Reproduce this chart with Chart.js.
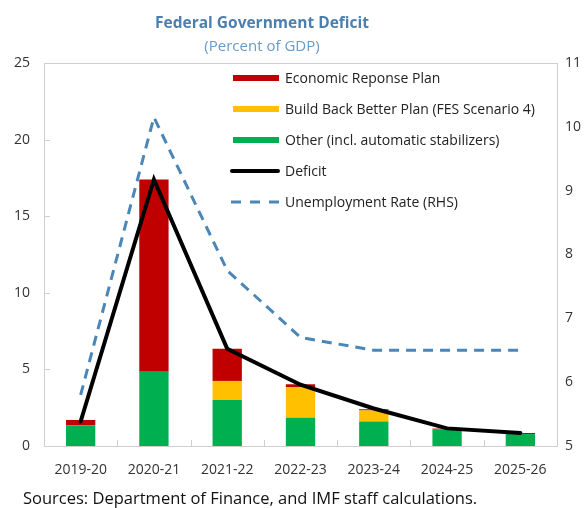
<!DOCTYPE html>
<html>
<head>
<meta charset="utf-8">
<script src="https://cdn.jsdelivr.net/npm/chart.js@4.4.1/dist/chart.umd.min.js"></script>
<style>
  body { margin: 0; background: #fff; font-family: "Open Sans", sans-serif; }
  #wrap { position: relative; width: 587px; height: 508px; overflow: hidden; }
  #title { position: absolute; left: 112px; width: 300px; top: 11px; text-align: center;
           color: #4a7fb0; font-weight: bold; font-size: 15.5px; }
  #subtitle { position: absolute; left: 112px; width: 300px; top: 35px; text-align: center;
              color: #6a9bc6; font-size: 15px; }
  #legend { position: absolute; left: 230px; top: 62px; font-size: 14px; color: #222; }
  #legend .item { height: 31px; display: flex; align-items: center; }
  #legend .sw { width: 50px; height: 22px; margin-right: 5px; }
  #source { position: absolute; left: 23px; top: 486px; font-size: 16.5px; color: #111; }
</style>
</head>
<body>
<div id="wrap">
  <canvas id="deficitchart" width="587" height="508"></canvas>
  <div id="title">Federal Government Deficit</div>
  <div id="subtitle">(Percent of GDP)</div>
  <div id="legend"></div>
  <div id="source">Sources: Department of Finance, and IMF staff calculations.</div>
</div>
<script>
// values
var years = ['2019-20', '2020-21', '2021-22', '2022-23', '2023-24', '2024-25', '2025-26'];
var otherVals = [1.35, 4.85, 3.0, 1.85, 1.6, 1.1, 0.78];
var bbbVals = [0, 0, 1.25, 2.0, 0.72, 0, 0];
var erpVals = [0.35, 12.55, 2.1, 0.18, 0.08, 0.04, 0.07];
var deficitVals = [1.6, 17.4, 6.35, 4.0, 2.45, 1.15, 0.85];
var unempVals = [5.8, 10.15, 7.75, 6.7, 6.5, 6.5, 6.5];
var leftTicks = [0, 5, 10, 15, 20, 25];
var rightTicks = [5, 6, 7, 8, 9, 10, 11];

var frameColor = '#cfcfcf';
var tickFont = { family: 'Open Sans', size: 14 };

// light frame round the plot plus the small inner tick marks
var framePlugin = {
    id: 'frame',
    afterDatasetsDraw: function (chart) {
        var ctx = chart.ctx, a = chart.chartArea;
        var ys = chart.scales.y, xs = chart.scales.x;
        ctx.save();
        ctx.strokeStyle = frameColor;
        ctx.lineWidth = 1;
        ctx.strokeRect(a.left + 0.5, a.top + 0.5, a.right - a.left, a.bottom - a.top);
        ctx.beginPath();
        leftTicks.forEach(function (v) {
            var py = Math.round(ys.getPixelForValue(v)) + 0.5;
            ctx.moveTo(a.left, py);
            ctx.lineTo(a.left + 6, py);
        });
        for (var i = 1; i < years.length; i++) {
            var px = Math.round((xs.getPixelForValue(i - 1) + xs.getPixelForValue(i)) / 2) + 0.5;
            ctx.moveTo(px, a.bottom);
            ctx.lineTo(px, a.bottom - 6);
        }
        ctx.stroke();
        ctx.restore();
    }
};

var ctx = document.getElementById('deficitchart').getContext('2d');
var chart = new Chart(ctx, {
    type: 'bar',
    data: {
        labels: years,
        datasets: [{
            label: 'Other (incl. automatic stabilizers)',
            data: otherVals,
            backgroundColor: '#00b050',
            stack: 'bars',
            order: 2
        }, {
            label: 'Build Back Better Plan (FES Scenario 4)',
            data: bbbVals,
            backgroundColor: '#ffc000',
            stack: 'bars',
            order: 2
        }, {
            label: 'Economic Reponse Plan',
            data: erpVals,
            backgroundColor: '#c00000',
            stack: 'bars',
            order: 2
        }, {
            type: 'line',
            label: 'Deficit',
            data: deficitVals,
            borderColor: '#000',
            borderWidth: 4,
            borderCapStyle: 'round',
            pointRadius: 0,
            tension: 0,
            stack: 'deficit',
            order: 0
        }, {
            type: 'line',
            label: 'Unemployment Rate (RHS)',
            data: unempVals,
            yAxisID: 'y1',
            borderColor: '#4a86b8',
            borderWidth: 3,
            borderDash: [10, 7],
            pointRadius: 0,
            tension: 0,
            order: 1
        }]
    },
    options: {
        responsive: false,
        animation: false,
        layout: { padding: { top: 63, left: 0, right: 0, bottom: 0 } },
        datasets: { bar: { categoryPercentage: 1, barPercentage: 0.4 } },
        plugins: { legend: { display: false }, tooltip: { enabled: false } },
        scales: {
            x: {
                stacked: true,
                grid: { display: false, drawTicks: false },
                border: { display: false },
                ticks: { color: '#333', font: tickFont, padding: 16, maxRotation: 0 },
                afterFit: function (s) { s.height = 62; }
            },
            y: {
                stacked: true,
                position: 'left',
                min: 0, max: 25,
                grid: { display: false, drawTicks: false },
                border: { display: false },
                ticks: { stepSize: 5, color: '#333', font: tickFont, padding: 14 },
                afterFit: function (s) { s.width = 44; }
            },
            y1: {
                position: 'right',
                min: 5, max: 11,
                grid: { display: false, drawTicks: false },
                border: { display: false },
                ticks: { stepSize: 1, color: '#333', font: tickFont, padding: 8 },
                afterFit: function (s) { s.width = 30; }
            }
        }
    },
    plugins: [framePlugin]
});

// legend built from the chart's datasets, in the reference order
var legendOrder = [2, 1, 0, 3, 4];
var leg = document.getElementById('legend');
legendOrder.forEach(function (i) {
    var ds = chart.data.datasets[i];
    var item = document.createElement('div');
    item.className = 'item';
    var sw = document.createElement('canvas');
    sw.className = 'sw';
    sw.width = 50; sw.height = 22;
    var c = sw.getContext('2d');
    if (ds.type === 'line') {
        c.strokeStyle = ds.borderColor;
        c.lineWidth = ds.borderWidth;
        c.lineCap = ds.borderDash ? 'butt' : 'round';
        if (ds.borderDash) c.setLineDash([10, 9]);
        c.beginPath();
        c.moveTo(ds.borderDash ? 1 : 2, 11);
        c.lineTo(ds.borderDash ? 50 : 48, 11);
        c.stroke();
    } else {
        c.fillStyle = ds.backgroundColor;
        c.fillRect(3, 8, 46, 6);
    }
    var txt = document.createElement('span');
    txt.textContent = ds.label;
    item.appendChild(sw);
    item.appendChild(txt);
    leg.appendChild(item);
});
</script>
</body>
</html>
